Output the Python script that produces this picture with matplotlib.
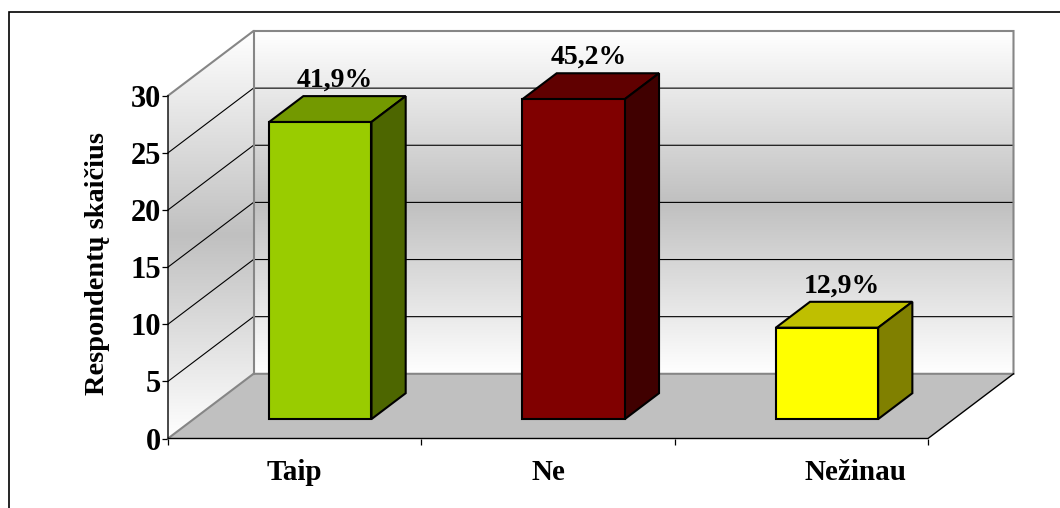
import numpy as np
import matplotlib
matplotlib.use("Agg")
import matplotlib.pyplot as plt
from matplotlib.patches import Polygon
from matplotlib.colors import LinearSegmentedColormap
from matplotlib.transforms import ScaledTranslation

categories = ["Taip", "Ne", "Nežinau"]
values = [26, 28, 8]
percent_labels = ["41,9%", "45,2%", "12,9%"]
front_colors = ["#99CC00", "#800000", "#FFFF00"]
top_colors = ["#739900", "#600000", "#BFBF00"]
side_colors = ["#4D6600", "#400000", "#808000"]
y_ticks = [0, 5, 10, 15, 20, 25, 30]
y_title = "Respondentų skaičius"

W, H = 1060, 508
plt.rcParams["font.family"] = ["Liberation Serif", "DejaVu Serif"]
plt.rcParams["font.weight"] = "bold"
fig = plt.figure(figsize=(W / 100, H / 100), dpi=100, facecolor="white")

# front plane of the chart box, in pixels
L, R, B, T = 168, 928, 438.5, 95.7
ax = fig.add_axes([L / W, 1 - B / H, (R - L) / W, (B - T) / H])
ax.patch.set_visible(False)
for s in ax.spines.values():
    s.set_visible(False)

DX = 3 * 85.5 / (R - L)      # full chart depth in x data units
DY = 30 * 64.7 / (B - T)     # full chart depth in y data units


def P(x, y, d=0.0):
    return (x + DX * d, y + DY * d)


grad = LinearSegmentedColormap.from_list("w", ["#FFFFFF", "#C0C0C0", "#FFFFFF"])
tt = np.linspace(0, 1, 256)

# back wall
ax.imshow(tt[:, None], cmap=grad, origin="lower", aspect="auto", zorder=1,
          extent=[DX, 3 + DX, DY, 30 + DY], clip_on=False)

# left wall: the gradient runs straight up its bounding box
left_img = ax.imshow(tt[:, None], cmap=grad, origin="lower", aspect="auto", zorder=1,
                     extent=[0, DX, 0, 30 + DY])
ax.set_xlim(0, 3)
ax.set_ylim(0, 30)
left_clip = Polygon([P(0, 0), P(0, 0, 1), P(0, 30, 1), P(0, 30)], closed=True,
                    transform=ax.transData, fc="none", ec="none", clip_on=False)
ax.add_patch(left_clip)
left_img.set_clip_box(fig.bbox)
left_img.set_clip_path(left_clip)

# floor
ax.add_patch(Polygon([P(0, 0), P(3, 0), P(3, 0, 1), P(0, 0, 1)], closed=True,
                     fc="#C0C0C0", ec="none", zorder=2, clip_on=False))

# gridlines
for v in y_ticks[1:-1]:
    ax.plot(*zip(P(0, v), P(0, v, 1), P(3, v, 1)), color="black", lw=0.8, zorder=3,
            clip_on=False, solid_joinstyle="miter")

# wall frame (grey)
gray = "#868686"
ax.plot(*zip(P(0, 0), P(0, 0, 1), P(3, 0, 1), P(3, 30, 1), P(0, 30, 1), P(0, 30)),
        color=gray, lw=1.5, zorder=3.5, clip_on=False, solid_joinstyle="miter")
ax.plot(*zip(P(0, 0, 1), P(0, 30, 1)), color=gray, lw=1.5, zorder=3.5, clip_on=False)

# axis line and floor front/right edge
ax.plot(*zip(P(0, 30), P(0, 0), P(3, 0), P(3, 0, 1)), color="black", lw=1.0, zorder=4,
        clip_on=False, solid_joinstyle="miter")

# 3D bars
bar_w = 0.404
d0, d1 = 0.30, 0.70
edge = dict(ec="black", lw=1.5, clip_on=False, joinstyle="miter", closed=True)
for i, v in enumerate(values):
    x0, x1 = i + 0.5 - bar_w / 2, i + 0.5 + bar_w / 2
    ax.add_patch(Polygon([P(x0, v, d0), P(x1, v, d0), P(x1, v, d1), P(x0, v, d1)],
                         fc=top_colors[i], zorder=5, **edge))
    ax.add_patch(Polygon([P(x1, 0, d0), P(x1, 0, d1), P(x1, v, d1), P(x1, v, d0)],
                         fc=side_colors[i], zorder=5, **edge))
    ax.add_patch(Polygon([P(x0, 0, d0), P(x1, 0, d0), P(x1, v, d0), P(x0, v, d0)],
                         fc=front_colors[i], zorder=6, **edge))
    ax.annotate(percent_labels[i], xy=P(i + 0.5, v, d1), xytext=(-14, 6.8),
                textcoords="offset points", ha="center", va="baseline",
                fontsize=20, fontweight="bold", color="black", zorder=7,
                annotation_clip=False)

# axes ticks and labels
ax.set_yticks(y_ticks)
ax.set_yticklabels([str(t) for t in y_ticks], fontsize=22, fontweight="bold")
ax.set_xticks([0, 1, 2, 3])
ax.set_xticklabels([])
ax.set_xticks([0.5, 1.5, 2.5], minor=True)
ax.set_xticklabels(categories, minor=True, fontsize=21, fontweight="bold")
ax.tick_params(axis="x", which="major", length=4, width=0.9, direction="out")
ax.tick_params(axis="x", which="minor", length=0, pad=15)
ax.tick_params(axis="y", length=4.3, width=0.9, pad=1)
ax.set_ylabel(y_title, fontsize=20.4, fontweight="bold")
ax.yaxis.set_label_coords((110 - L) / (R - L), 0.51)

# the last category label sits to the right of its slot in the reference
last = ax.get_xticklabels(minor=True)[-1]
last.set_transform(last.get_transform() + ScaledTranslation(54 / 100, 0, fig.dpi_scale_trans))

# outer chart border: only the top and left lines reach into the picture
bx0, by1 = 9 / W, 1 - 11.5 / H
fig.add_artist(plt.Line2D([bx0, bx0, 1], [0, by1, by1],
                          transform=fig.transFigure, color="black", lw=1.2,
                          solid_joinstyle="miter"))

fig.savefig("out.png", dpi=100, facecolor="white")
